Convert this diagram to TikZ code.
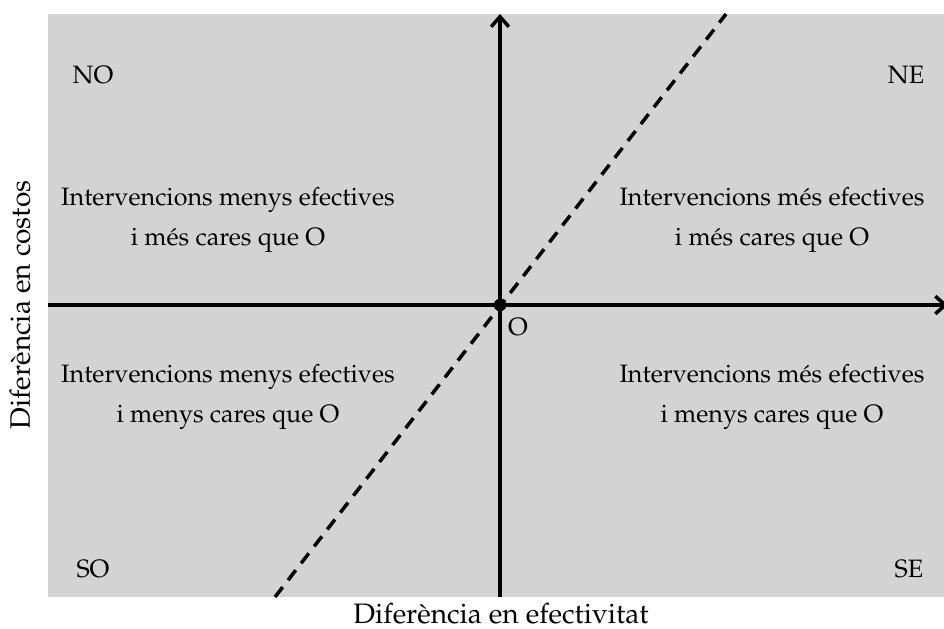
\documentclass[tikz,border=0pt]{standalone}
\usepackage[T1]{fontenc}
\usepackage{mathpazo}
\usetikzlibrary{arrows.meta}
\definecolor{panelgray}{RGB}{211,211,211}
\tikzset{
    axis/.style={line width=1.4pt,-{Straight Barb[length=4pt,width=7pt]}},
    quadtext/.style={align=center,font=\normalsize},
    corner/.style={font=\normalsize},
    axtitle/.style={font=\fontsize{11.2}{13}\selectfont}
}
\begin{document}
\begin{tikzpicture}[x=0.398pt,y=-0.398pt]
    \useasboundingbox (0,0) rectangle (944,628);

    % Background
    \fill [panelgray] (48,14) rectangle (944,597);

    % Axis ends
    \coordinate (xl) at (48,305);
    \coordinate (xr) at (948,305);
    \coordinate (yb) at (500,597);
    \coordinate (yt) at (500,14);
    \coordinate (dl) at (275,597);
    \coordinate (du) at (726,14);

    % Axes
    \draw [axis] (xl) -- (xr);
    \draw [axis] (yb) -- (yt);
    \draw [line width=1.4pt,dash pattern=on 5pt off 3.5pt] (dl) -- (du);

    % Origin
    \node (orig) at (500,305) [circle,fill,inner sep=0pt,minimum size=5pt] {};
    \node (olab) at (518,327) {O};

    % Corner labels
    \node (no) at (93,75) [corner] {NO};
    \node (ne) at (906,75) [corner] {NE};
    \node (so) at (93,569) [corner] {SO};
    \node (se) at (909,569) [corner] {SE};

    % Quadrant texts
    \node (qno) at (228,220) [quadtext] {Intervencions menys efectives\\[4pt] i m\'es cares que O};
    \node (qne) at (772,220) [quadtext] {Intervencions m\'es efectives\\[4pt] i m\'es cares que O};
    \node (qso) at (228,397) [quadtext] {Intervencions menys efectives\\[4pt] i menys cares que O};
    \node (qse) at (772,397) [quadtext] {Intervencions m\'es efectives\\[4pt] i menys cares que O};

    % Axis titles
    \node (xtit) at (501,614) [axtitle] {Difer\`encia en efectivitat};
    \node (ytit) at (20,305) [axtitle,rotate=90] {Difer\`encia en costos};
\end{tikzpicture}
\end{document}
